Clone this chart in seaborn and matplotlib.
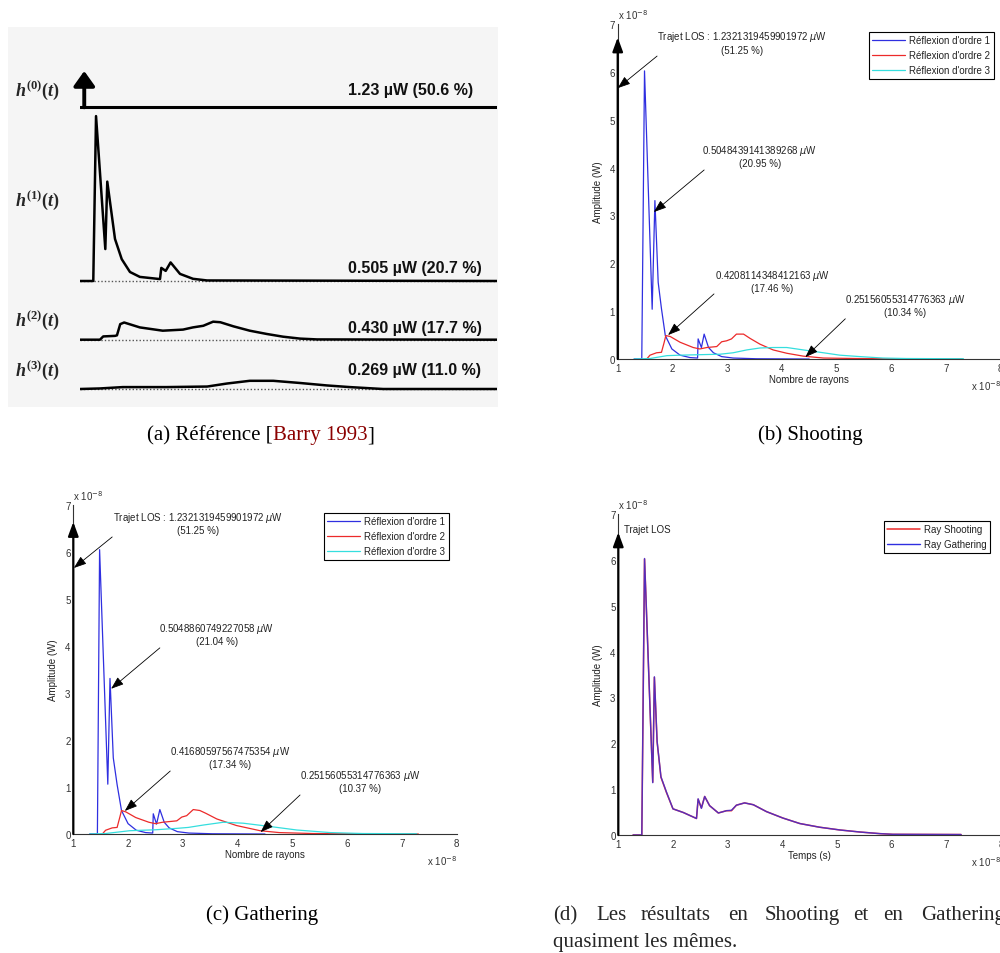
import matplotlib
matplotlib.use("Agg")
import matplotlib.pyplot as plt
import seaborn as sns
from matplotlib.patches import Rectangle

W, H = 1000, 954

a_t_los = 1.30
a_los_height = 1.33
a_h0_t = [1.235, 7.61]
a_h0_y = [0, 0]
a_h1_t = [1.235, 1.438, 1.48, 1.622, 1.652, 1.77, 1.873, 1.999, 2.15, 2.458, 2.478,
          2.545, 2.62, 2.764, 2.963, 3.177, 7.61]
a_h1_y = [0, 0, 6.04, 1.17, 3.64, 1.54, 0.80, 0.33, 0.15, 0.07, 0.48,
          0.37, 0.68, 0.26, 0.08, 0.02, 0]
a_h2_t = [1.235, 1.54, 1.59, 1.77, 1.80, 1.85, 1.91, 2.15, 2.50, 2.81, 2.96, 3.12,
          3.27, 3.38, 3.58, 3.83, 4.09, 4.34, 4.60, 4.86, 7.61]
a_h2_y = [0, 0, 0.12, 0.14, 0.16, 0.57, 0.63, 0.45, 0.33, 0.37, 0.45, 0.51,
          0.66, 0.64, 0.49, 0.33, 0.21, 0.11, 0.04, 0.01, 0]
a_h3_t = [1.235, 1.54, 1.89, 2.56, 3.18, 3.48, 3.83, 4.19, 4.60, 5.01, 5.36, 5.72, 5.87, 7.61]
a_h3_y = [0, 0.02, 0.07, 0.07, 0.09, 0.20, 0.30, 0.30, 0.22, 0.13, 0.07, 0.02, 0, 0]
a_labels = [r"$h^{(0)}(t)$", r"$h^{(1)}(t)$", r"$h^{(2)}(t)$", r"$h^{(3)}(t)$"]
a_values = ["1.23 µW (50.6 %)", "0.505 µW (20.7 %)", "0.430 µW (17.7 %)", "0.269 µW (11.0 %)"]

# (b) Shooting
b_t1 = [1.30, 1.44, 1.49, 1.63, 1.68, 1.74, 1.80, 1.87, 1.99, 2.14, 2.32, 2.46, 2.47,
        2.53, 2.58, 2.66, 2.75, 2.90, 3.11, 3.54, 4.50]
b_y1 = [0, 0, 6.02, 1.04, 3.31, 1.60, 1.05, 0.49, 0.21, 0.08, 0.03, 0.02, 0.42,
        0.24, 0.52, 0.24, 0.13, 0.05, 0.02, 0.005, 0]
b_t2 = [1.53, 1.59, 1.71, 1.80, 1.85, 1.88, 1.96, 2.14, 2.38, 2.50, 2.63, 2.81, 2.90,
        2.99, 3.08, 3.17, 3.30, 3.42, 3.60, 3.84, 4.09, 4.39, 4.76, 5.37, 5.98, 7.30]
b_y2 = [0, 0.08, 0.13, 0.14, 0.35, 0.49, 0.47, 0.35, 0.24, 0.21, 0.24, 0.26, 0.36,
        0.38, 0.42, 0.52, 0.52, 0.43, 0.31, 0.19, 0.12, 0.06, 0.02, 0.01, 0.005, 0]
b_t3 = [1.30, 1.59, 1.90, 2.14, 2.50, 2.87, 3.11, 3.36, 3.60, 3.84, 4.09, 4.39, 4.70,
        5.06, 5.43, 5.85, 6.28, 7.32]
b_y3 = [0, 0.01, 0.07, 0.08, 0.09, 0.10, 0.13, 0.19, 0.23, 0.24, 0.24, 0.19, 0.14,
        0.08, 0.05, 0.02, 0.01, 0.005]
b_notes = ["Trajet LOS : 1.2321319459901972 $\\mu$W\n(51.25 %)",
           "0.5048439141389268 $\\mu$W\n(20.95 %)",
           "0.4208114348412163 $\\mu$W\n(17.46 %)",
           "0.25156055314776363 $\\mu$W\n(10.34 %)"]

# (c) Gathering
c_t1 = [1.30, 1.44, 1.48, 1.63, 1.67, 1.73, 1.80, 1.88, 2.00, 2.15, 2.32, 2.45, 2.46,
        2.52, 2.58, 2.66, 2.75, 2.90, 3.11, 3.54, 4.50]
c_y1 = [0, 0, 6.05, 1.06, 3.31, 1.62, 1.05, 0.50, 0.22, 0.08, 0.03, 0.02, 0.43,
        0.21, 0.52, 0.25, 0.13, 0.05, 0.02, 0.005, 0]
c_t2 = [1.53, 1.59, 1.71, 1.80, 1.85, 1.88, 1.96, 2.14, 2.38, 2.50, 2.63, 2.89, 2.98,
        3.07, 3.19, 3.31, 3.42, 3.62, 3.98, 4.41, 4.76, 5.37, 5.98, 7.30]
c_y2 = [0, 0.08, 0.13, 0.14, 0.36, 0.50, 0.47, 0.35, 0.25, 0.22, 0.25, 0.28, 0.36,
        0.39, 0.52, 0.50, 0.44, 0.32, 0.18, 0.07, 0.03, 0.01, 0.005, 0]
c_t3 = [1.30, 1.59, 2.03, 2.50, 2.89, 3.10, 3.37, 3.74, 4.10, 4.59, 5.08, 5.69, 6.28, 7.27]
c_y3 = [0, 0.01, 0.07, 0.09, 0.12, 0.14, 0.19, 0.25, 0.23, 0.16, 0.085, 0.03, 0.01, 0.005]
c_notes = ["Trajet LOS : 1.2321319459901972 $\\mu$W\n(51.25 %)",
           "0.5048860749227058 $\\mu$W\n(21.04 %)",
           "0.41680597567475354 $\\mu$W\n(17.34 %)",
           "0.25156055314776363 $\\mu$W\n(10.37 %)"]

# (d) Shooting vs Gathering
d_t = [1.27, 1.43, 1.48, 1.63, 1.66, 1.71, 1.78, 1.88, 2.00, 2.19, 2.43, 2.46, 2.52,
       2.58, 2.67, 2.83, 2.98, 3.07, 3.16, 3.31, 3.47, 3.71, 4.01, 4.32, 4.68, 5.05,
       5.42, 5.78, 6.02, 7.27]
d_shoot = [0, 0, 6.02, 1.15, 3.44, 2.03, 1.26, 0.93, 0.57, 0.49, 0.36, 0.78, 0.59,
           0.84, 0.64, 0.48, 0.53, 0.53, 0.65, 0.70, 0.66, 0.51, 0.37, 0.25, 0.17, 0.11,
           0.065, 0.03, 0.015, 0.01]
d_gather = [0, 0, 6.03, 1.14, 3.45, 2.04, 1.27, 0.94, 0.57, 0.49, 0.36, 0.79, 0.58,
            0.84, 0.64, 0.48, 0.53, 0.54, 0.65, 0.70, 0.66, 0.51, 0.37, 0.25, 0.17, 0.11,
            0.065, 0.03, 0.015, 0.01]

ordres = ["Réflexion d'ordre 1", "Réflexion d'ordre 2", "Réflexion d'ordre 3"]
couleurs = ["#2f2fe0", "#ec2a2a", "#35dede"]

sns.set_style("white")
plt.rcParams["font.family"] = ["Liberation Sans", "DejaVu Sans"]
plt.rcParams["mathtext.fontset"] = "custom"
plt.rcParams["mathtext.it"] = "Liberation Serif:italic:bold"
plt.rcParams["mathtext.rm"] = "Liberation Serif:bold"
plt.rcParams["mathtext.bf"] = "Liberation Serif:bold"

fig = plt.figure(figsize=(W / 100, H / 100), dpi=100)
FS = 7  # texte des figures MATLAB


def px_axes(l, t, r, b):
    return fig.add_axes([l / W, 1 - b / H, (r - l) / W, (b - t) / H])


# ---------- (a) ----------
fig.patches.append(Rectangle((8 / W, 1 - 408 / H), 490 / W, 380 / H, transform=fig.transFigure,
                             facecolor="#f5f5f5", edgecolor="none", zorder=-1))


def ref_axes(top, bottom, base, k=27.3):
    ax = px_axes(80, top, 497, bottom)
    ax.set_xlim(a_h0_t[0], a_h0_t[-1])
    ax.set_ylim(-(bottom - base) / k, (base - top) / k)
    ax.axis("off")
    ax.patch.set_alpha(0)
    return ax


ax0 = ref_axes(55, 112, 108.3)
sns.lineplot(x=a_h0_t, y=a_h0_y, ax=ax0, color="black", lw=2.2)
ax0.annotate("", xy=(a_t_los, a_los_height), xytext=(a_t_los, 0),
             arrowprops=dict(arrowstyle="-|>,head_length=0.45,head_width=0.32", color="black",
                             lw=2.8, mutation_scale=20, shrinkA=0, shrinkB=0))

for (tt, yy), (top, bot, base) in zip([(a_h1_t, a_h1_y), (a_h2_t, a_h2_y), (a_h3_t, a_h3_y)],
                                      [(112, 290, 282), (300, 350, 340.7), (352, 398, 390)]):
    ax = ref_axes(top, bot, base)
    ax.axhline(0, color="#555555", lw=1.0, ls=(0, (1, 1.5)), zorder=1)
    sns.lineplot(x=tt, y=yy, ax=ax, color="black", lw=1.8, zorder=2)

for lab, y in zip(a_labels, [90, 200, 320, 370]):
    fig.text(15 / W, 1 - y / H, lab, fontsize=13, va="center", ha="left", math_fontfamily="custom")
for val, y in zip(a_values, [90, 268, 329, 370]):
    fig.text(348 / W, 1 - y / H, val, fontsize=11.5, fontweight="bold", va="center", ha="left",
             color="#111111")


# ---------- figures MATLAB ----------
def matlab_axes(l, t, r, b, xlabel):
    ax = px_axes(l, t, r, b)
    w, h = r - l, b - t
    ax.set_xlim(1, 8)
    ax.set_ylim(0, 7)
    ax.set_xticks(range(1, 9))
    ax.set_yticks(range(0, 8))
    sns.despine(ax=ax)
    for s in ["left", "bottom"]:
        ax.spines[s].set_color("#333333")
        ax.spines[s].set_linewidth(0.8)
    ax.tick_params(direction="in", length=3, width=0.6, labelsize=FS, colors="#333333")
    ax.tick_params(axis="x", pad=3)
    ax.tick_params(axis="y", pad=2)
    ax.set_xlabel(xlabel, fontsize=FS, color="#222222")
    ax.xaxis.set_label_coords(0.5, -15 / h)
    ax.set_ylabel("Amplitude (W)", fontsize=FS, color="#222222")
    ax.yaxis.set_label_coords(-15 / w, 0.5)
    ax.text(0.0, 1 + 10 / h, r"x 10$^{-8}$", transform=ax.transAxes, fontsize=FS,
            color="#333333", ha="left", va="center", math_fontfamily="dejavusans")
    ax.text(1.0, -26 / h, r"x 10$^{-8}$", transform=ax.transAxes, fontsize=FS,
            color="#333333", ha="right", va="center", math_fontfamily="dejavusans")
    return ax


def los_arrow(ax, top):
    ax.annotate("", xy=(1, top), xytext=(1, 0), annotation_clip=False,
                arrowprops=dict(arrowstyle="-|>,head_length=0.6,head_width=0.22", color="black",
                                lw=1.6, mutation_scale=14, shrinkA=0, shrinkB=0))


def notes(ax, texts, text_pos, tails, heads):
    for txt, (tx, ty), tail, head in zip(texts, text_pos, tails, heads):
        ax.text(tx, ty, txt, fontsize=FS, color="#222222", ha="center", va="center",
                multialignment="center", math_fontfamily="dejavusans", linespacing=1.2)
        ax.annotate("", xy=head, xytext=tail, annotation_clip=False,
                    arrowprops=dict(arrowstyle="-|>,head_length=0.55,head_width=0.2", color="black",
                                    lw=0.6, mutation_scale=14, shrinkA=0, shrinkB=0))


def legend(ax, x, y):
    leg = ax.legend(loc="upper left", bbox_to_anchor=(x / W, 1 - y / H), bbox_transform=fig.transFigure,
                    borderaxespad=0, fontsize=FS, frameon=True, fancybox=False, edgecolor="black",
                    framealpha=1, handlelength=3.4, labelspacing=0.5, borderpad=0.35,
                    handletextpad=0.4)
    leg.get_frame().set_linewidth(0.8)
    for t in leg.get_texts():
        t.set_color("#222222")
    return leg


# (b)
axb = matlab_axes(617.7, 25, 1000.7, 360, "Nombre de rayons")
for tt, yy, lab, col in zip([b_t1, b_t2, b_t3], [b_y1, b_y2, b_y3], ordres, couleurs):
    sns.lineplot(x=tt, y=yy, ax=axb, color=col, lw=0.9, label=lab)
los_arrow(axb, 6.72)
notes(axb, b_notes,
      [(3.27, 6.63), (3.60, 4.25), (3.82, 1.64), (6.25, 1.14)],
      [(1.72, 6.33), (2.58, 3.95), (2.76, 1.36), (5.16, 0.84)],
      [(1.0, 5.66), (1.66, 3.07), (1.92, 0.50), (4.43, 0.04)])
legend(axb, 869, 33)

# (c)
axc = matlab_axes(73.3, 506, 456.7, 835, "Nombre de rayons")
for tt, yy, lab, col in zip([c_t1, c_t2, c_t3], [c_y1, c_y2, c_y3], ordres, couleurs):
    sns.lineplot(x=tt, y=yy, ax=axc, color=col, lw=0.9, label=lab)
los_arrow(axc, 6.64)
notes(axc, c_notes,
      [(3.28, 6.63), (3.62, 4.27), (3.86, 1.65), (6.23, 1.14)],
      [(1.71, 6.32), (2.58, 3.96), (2.77, 1.34), (5.14, 0.83)],
      [(1.01, 5.66), (1.69, 3.09), (1.94, 0.49), (4.42, 0.04)])
legend(axc, 324, 514)

# (d)
axd = matlab_axes(618.3, 515, 1001, 836, "Temps (s)")
sns.lineplot(x=d_t, y=d_shoot, ax=axd, color="#ec2a2a", lw=1.1, label="Ray Shooting")
sns.lineplot(x=d_t, y=d_gather, ax=axd, color="#2f2fe0", lw=1.0, alpha=0.8, label="Ray Gathering")
los_arrow(axd, 6.6)
axd.text(1.10, 6.67, "Trajet LOS", fontsize=FS, color="#222222", ha="left", va="center")
leg_d = legend(axd, 884, 522)
for line in leg_d.get_lines():
    line.set_alpha(1)

# ---------- légendes des sous-figures ----------
cap = dict(fontsize=15, family="Liberation Serif", va="baseline")
renderer = fig.canvas.get_renderer()


def caption(parts, center, y):
    items = [fig.text(0, 1 - y / H, txt, color=col, **cap) for txt, col in parts]
    widths = [it.get_window_extent(renderer).width for it in items]
    x = center - sum(widths) / 2
    for it, wd in zip(items, widths):
        it.set_x(x / W)
        x += wd


caption([("(a) Référence [", "black"), ("Barry 1993", "#8b0000"), ("]", "black")], 261, 440)
caption([("(b) Shooting", "black")], 810, 440)
caption([("(c) Gathering", "black")], 262, 920)
for word, x in zip(["(d)", "Les", "résultats", "en", "Shooting", "et", "en", "Gathering"],
                   [553, 596, 641, 728, 765, 853, 883, 921]):
    fig.text(x / W, 1 - 920 / H, word, **cap)
fig.text(553 / W, 1 - 947 / H, "quasiment les mêmes.", **cap)

fig.savefig("out.png", dpi=100, facecolor="white")
